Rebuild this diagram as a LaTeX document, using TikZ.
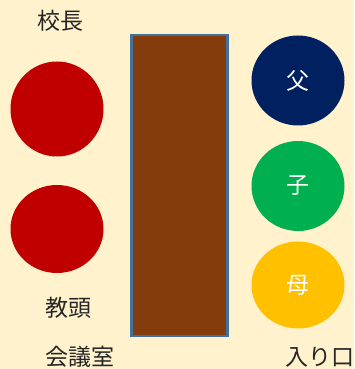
\documentclass[tikz,border=0pt]{standalone}
\usepackage{fontspec}
\setmainfont{Noto Sans CJK JP}
\usepackage{tikz}
\usetikzlibrary{shapes.geometric}

\definecolor{bgyellow}{HTML}{FFF2CC}
\definecolor{deskbrown}{HTML}{843C0C}
\definecolor{deskedge}{HTML}{41719C}
\definecolor{seatred}{HTML}{C00000}
\definecolor{seatnavy}{HTML}{002060}
\definecolor{seatgreen}{HTML}{00B050}
\definecolor{seatgold}{HTML}{FFC000}

\begin{document}
\begin{tikzpicture}[x=1pt,y=1pt,
				seat/.style={ellipse,inner sep=0pt,minimum width=93pt,text=white,font=\fontsize{23}{23}\selectfont},
				label text/.style={font=\fontsize{23}{23}\selectfont,text=black!85}]
				
				\fill[bgyellow] (0,0) rectangle (354,369);
				\useasboundingbox (0,0) rectangle (354,369);
				
				% table
				\node[draw=deskedge,line width=2.5pt,fill=deskbrown,minimum width=96pt,minimum height=301pt,inner sep=0pt] (table) at (179.5,183.5) {};
				
				% school side
				\node[seat,fill=seatred,minimum height=95pt] (principal) at (57,260) {};
				\node[seat,fill=seatred,minimum height=88pt] (vice) at (57,140) {};
				\node[label text] (principallabel) at (60,348) {校長};
				\node[label text] (vicelabel) at (68,61) {教頭};
				\node[label text] (room) at (80,12) {会議室};
				
				% family side
				\node[seat,fill=seatnavy,minimum height=90pt] (father) at (298,288.5) {父};
				\node[seat,fill=seatgreen,minimum height=90pt] (child) at (298,183) {子};
				\node[seat,fill=seatgold,minimum height=87pt] (mother) at (298,84) {母};
				\node[label text] (entrance) at (319.5,12) {入り口};
				
\end{tikzpicture}
\end{document}
